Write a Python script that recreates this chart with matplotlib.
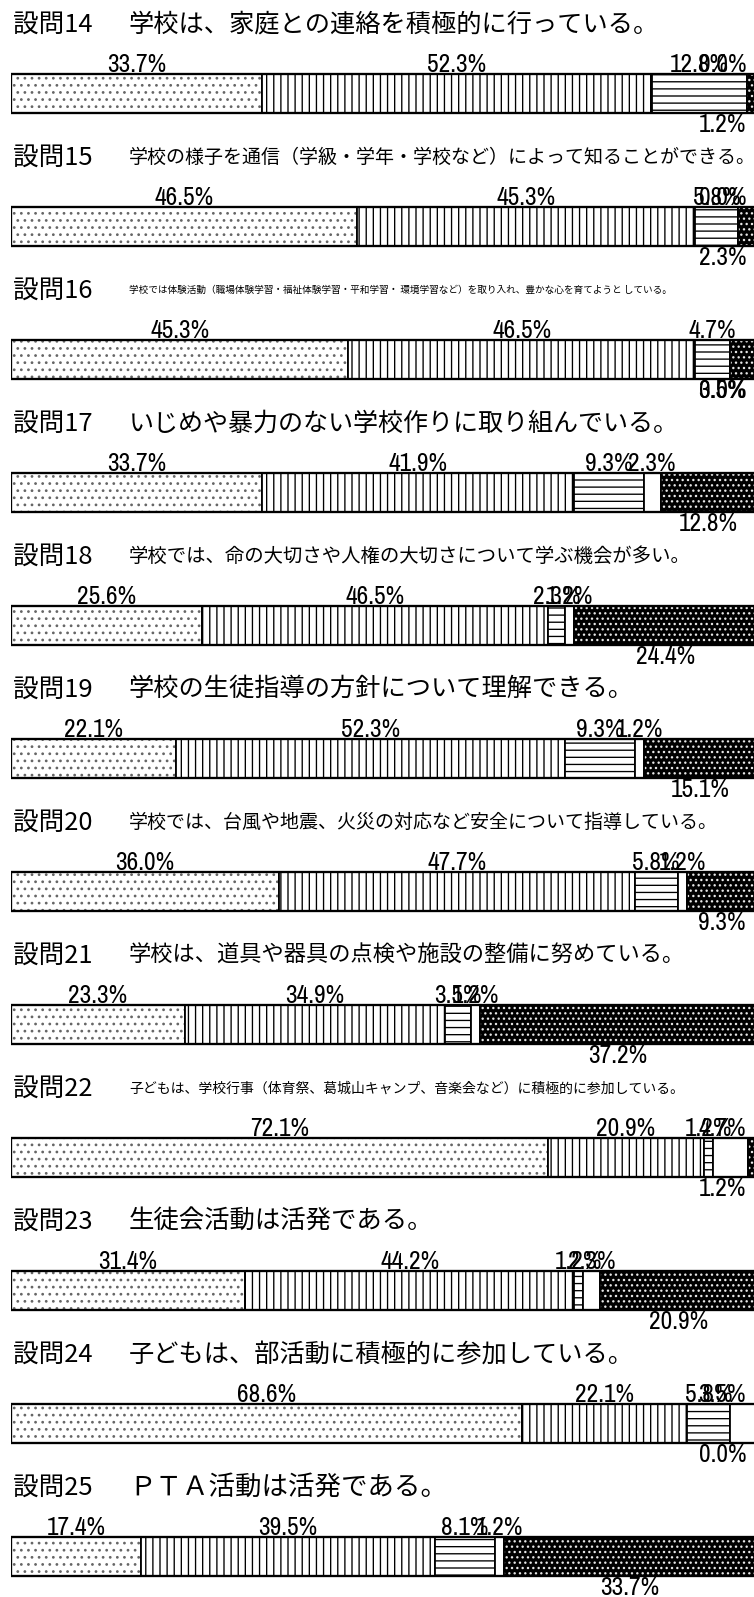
import numpy as np
import matplotlib
matplotlib.use("Agg")
import matplotlib.pyplot as plt
from matplotlib.transforms import blended_transform_factory

questions = ["設問14", "設問15", "設問16", "設問17", "設問18", "設問19",
             "設問20", "設問21", "設問22", "設問23", "設問24", "設問25"]
texts = [
    "学校は、家庭との連絡を積極的に行っている。",
    "学校の様子を通信（学級・学年・学校など）によって知ることができる。",
    "学校では体験活動（職場体験学習・福祉体験学習・平和学習・ 環境学習など）を取り入れ、豊かな心を育てようと している。",
    "いじめや暴力のない学校作りに取り組んでいる。",
    "学校では、命の大切さや人権の大切さについて学ぶ機会が多い。",
    "学校の生徒指導の方針について理解できる。",
    "学校では、台風や地震、火災の対応など安全について指導している。",
    "学校は、道具や器具の点検や施設の整備に努めている。",
    "子どもは、学校行事（体育祭、葛城山キャンプ、音楽会など）に積極的に参加している。",
    "生徒会活動は活発である。",
    "子どもは、部活動に積極的に参加している。",
    "ＰＴＡ活動は活発である。",
]

# five answer groups, left to right
dotted = [33.7, 46.5, 45.3, 33.7, 25.6, 22.1, 36.0, 23.3, 72.1, 31.4, 68.6, 17.4]
vertical = [52.3, 45.3, 46.5, 41.9, 46.5, 52.3, 47.7, 34.9, 20.9, 44.2, 22.1, 39.5]
horizontal = [12.8, 5.8, 4.7, 9.3, 2.3, 9.3, 5.8, 3.5, 1.2, 1.2, 5.8, 8.1]
blank = [0.0, 0.0, 0.0, 2.3, 1.2, 1.2, 1.2, 1.2, 4.7, 2.3, 3.5, 1.2]
dark = [1.2, 2.3, 3.5, 12.8, 24.4, 15.1, 9.3, 37.2, 1.2, 20.9, 0.0, 33.7]

# segments whose label sits under the bar
below = [[4], [4], [3, 4], [4], [4], [4], [4], [4], [4], [4], [4], [4]]

segments = [dotted, vertical, horizontal, blank, dark]
styles = [
    dict(face="white", hcolor="#666666", hatch="..."),
    dict(face="white", hcolor="black", hatch="|||"),
    dict(face="white", hcolor="black", hatch="---"),
    dict(face="white", hcolor="white", hatch=None),
    dict(face="black", hcolor="#e8e8e8", hatch="...."),
]
text_sizes = [14.2, 10.7, 5.45, 14.1, 10.9, 14.2, 10.7, 12.5, 7.8, 14.3, 14.2, 14.9]

num_font = dict(family=["Archivo Narrow", "DejaVu Sans"], size=14.3)
jp = ["Noto Sans CJK JP", "DejaVu Sans"]

plt.rcParams["hatch.linewidth"] = 0.75

DPI = 128
fig = plt.figure(figsize=(754 / DPI, 1597 / DPI), dpi=DPI)
fig.patch.set_facecolor("white")
ax = fig.add_axes([11 / 754, 0, 745 / 754, 1])
ax.set_xlim(0, 100)
ax.set_ylim(-0.703 + 1597 / 133, -0.703)
ax.axis("off")

n = len(questions)
ypos = np.arange(n)
bar_h = 39 / 133
left = np.zeros(n)
labels = []
for j, (seg, st) in enumerate(zip(segments, styles)):
    seg = np.array(seg)
    ax.barh(ypos, seg, left=left, height=bar_h, color=st["face"],
            edgecolor=st["hcolor"], hatch=st["hatch"], linewidth=0)
    ax.barh(ypos, seg, left=left, height=bar_h, fill=False,
            edgecolor="black", linewidth=1.0)
    for i in range(n):
        cx = left[i] + seg[i] / 2
        if j in below[i]:
            t = ax.annotate(f"{seg[i]:.1f}%", (cx, i + bar_h / 2), xytext=(0, -19),
                            textcoords="offset pixels", ha="center", va="baseline",
                            annotation_clip=False, **num_font)
        else:
            t = ax.annotate(f"{seg[i]:.1f}%", (cx, i - bar_h / 2), xytext=(0, 2),
                            textcoords="offset pixels", ha="center", va="baseline",
                            annotation_clip=False, **num_font)
        labels.append(t)
    left = left + seg

# outer frame of each bar
ax.barh(ypos, left, height=bar_h, fill=False, edgecolor="black", linewidth=1.3)

trans = blended_transform_factory(fig.transFigure, ax.transData)
for i in range(n):
    ax.text(13 / 754, i - 0.52, questions[i], transform=trans, va="center",
            ha="left", fontsize=14.4, family=jp)
    ax.text(129 / 754, i - 0.52, texts[i], transform=trans, va="center",
            ha="left", fontsize=text_sizes[i], family=jp)

# keep labels near the right edge inside the picture
fig.canvas.draw()
renderer = fig.canvas.get_renderer()
for t in labels:
    bb = t.get_window_extent(renderer)
    if bb.x1 > 746:
        dx, dy = t.xyann
        t.xyann = (dx - (bb.x1 - 746), dy)

fig.savefig("out.png", dpi=DPI)
